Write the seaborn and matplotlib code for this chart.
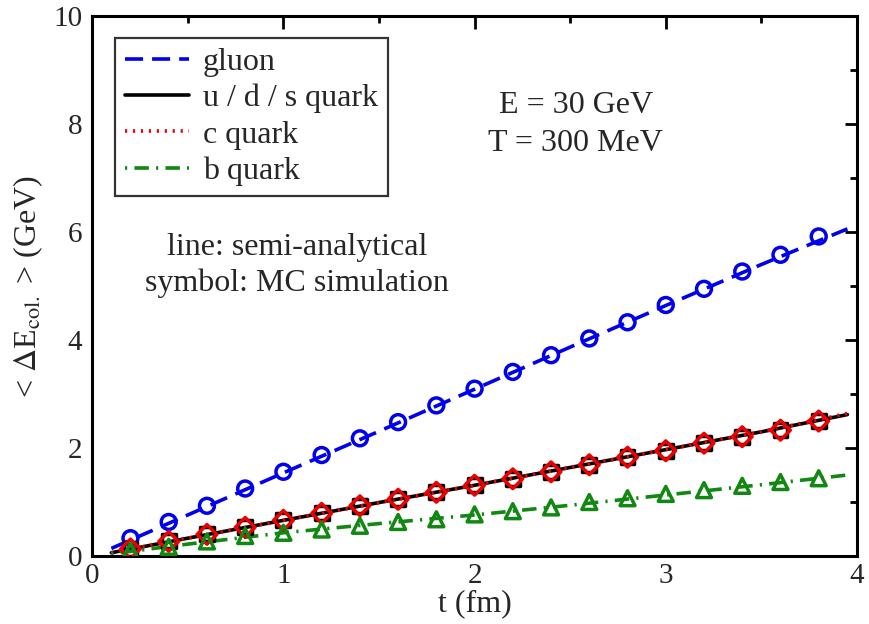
import numpy as np
import pandas as pd
import matplotlib
matplotlib.use("Agg")
import matplotlib.pyplot as plt
import seaborn as sns
from matplotlib.lines import Line2D
from matplotlib.ticker import MultipleLocator

# ---- data ----
t_line = [0.1, 0.5, 1.0, 1.5, 2.0, 2.5, 3.0, 3.5, 3.95]
gluon_line = [0.14, 0.76, 1.54, 2.31, 3.09, 3.87, 4.64, 5.40, 6.06]
uds_line = [0.06, 0.33, 0.66, 0.99, 1.31, 1.64, 1.97, 2.30, 2.62]
c_line = [0.06, 0.33, 0.66, 0.99, 1.31, 1.64, 1.97, 2.30, 2.64]
b_line = [0.04, 0.22, 0.43, 0.60, 0.76, 0.94, 1.13, 1.32, 1.50]

t_mc = [0.2, 0.4, 0.6, 0.8, 1.0, 1.2, 1.4, 1.6, 1.8, 2.0,
        2.2, 2.4, 2.6, 2.8, 3.0, 3.2, 3.4, 3.6, 3.8]
gluon_mc = [0.33, 0.63, 0.93, 1.25, 1.56, 1.87, 2.18, 2.48, 2.79, 3.10,
            3.41, 3.72, 4.03, 4.33, 4.65, 4.95, 5.27, 5.58, 5.92]
uds_mc = [0.13, 0.27, 0.40, 0.53, 0.66, 0.79, 0.93, 1.05, 1.18, 1.31,
          1.43, 1.56, 1.69, 1.83, 1.95, 2.09, 2.21, 2.33, 2.50]
c_mc = [0.13, 0.27, 0.40, 0.53, 0.66, 0.79, 0.93, 1.05, 1.18, 1.31,
        1.43, 1.56, 1.69, 1.83, 1.95, 2.09, 2.21, 2.33, 2.50]
b_mc = [0.10, 0.17, 0.27, 0.37, 0.43, 0.49, 0.56, 0.63, 0.68, 0.77,
        0.83, 0.90, 1.00, 1.07, 1.15, 1.22, 1.30, 1.37, 1.44]

labels = ["gluon", "u / d / s quark", "c quark", "b quark"]
colors = ["#0000ee", "#000000", "#ee0000", "#118811"]

sns.set_theme(style="white")
plt.rcParams["font.family"] = ["Liberation Serif", "DejaVu Serif"]
plt.rcParams["mathtext.fontset"] = "stix"

FS = 23
TFS = 21

fig = plt.figure(figsize=(8.7, 6.24), dpi=100)
ax = fig.add_axes([0.106, 0.109, 0.879, 0.865])

lw = 2.6
dashes = [(5, 2.5), (None, None), (0.6, 1.6), (0.6, 2.0, 4.0, 2.0)]
line_sets = [gluon_line, uds_line, c_line, b_line]
mc_sets = [gluon_mc, uds_mc, c_mc, b_mc]
markers = ["o", "s", "D", "^"]
msizes = [115, 100, 100, 115]

# lines
for i, (ys, col, dsh) in enumerate(zip(line_sets, colors, dashes)):
    df = pd.DataFrame({"t": t_line, "E": ys})
    sns.lineplot(data=df, x="t", y="E", ax=ax, color=col, lw=lw, zorder=2 + i * 0.1)
    ln = ax.lines[-1]
    if dsh[0] is not None:
        ln.set_dashes(dsh)
        ln.set_dash_capstyle("butt")

# markers
for i, (ys, col, mk, ms) in enumerate(zip(mc_sets, colors, markers, msizes)):
    df = pd.DataFrame({"t": t_mc, "E": ys})
    sns.scatterplot(data=df, x="t", y="E", ax=ax, marker=mk, s=ms,
                    facecolor="none", edgecolor=col, linewidth=2.5, zorder=3 + i * 0.1)

ax.set_xlim(0, 4)
ax.set_ylim(0, 10)
ax.xaxis.set_major_locator(MultipleLocator(1))
ax.xaxis.set_minor_locator(MultipleLocator(0.5))
ax.yaxis.set_major_locator(MultipleLocator(2))
ax.yaxis.set_minor_locator(MultipleLocator(1))
ax.tick_params(which="both", direction="in", top=True, right=True, width=2.0,
               color="black", labelsize=TFS)
ax.tick_params(axis="x", pad=5)
ax.tick_params(axis="y", pad=7)
ax.tick_params(which="major", length=9)
ax.tick_params(which="minor", length=5)
for sp in ax.spines.values():
    sp.set_linewidth(2.2)
    sp.set_color("black")

ax.set_xlabel("t (fm)", fontsize=FS, labelpad=0)
ax.set_ylabel(r"< $\Delta$E$_{\rm col.}$ > (GeV)", fontsize=FS, labelpad=6)

ax.text(2.53, 8.35, "E = 30 GeV", fontsize=FS, ha="center", va="center")
ax.text(2.53, 7.64, "T = 300 MeV", fontsize=FS, ha="center", va="center")
ax.text(1.07, 5.72, "line: semi-analytical", fontsize=FS, ha="center", va="center")
ax.text(1.07, 5.05, "symbol: MC simulation", fontsize=FS, ha="center", va="center")

handles = []
for col, dsh in zip(colors, dashes):
    h = Line2D([0], [0], color=col, lw=lw)
    if dsh[0] is not None:
        h.set_dashes(dsh)
        h.set_dash_capstyle("butt")
    handles.append(h)
leg = ax.legend(handles, labels, loc="upper left", bbox_to_anchor=(0.03, 0.96),
                fontsize=FS, frameon=True, fancybox=False, edgecolor="black",
                handlelength=2.0, handletextpad=0.45, labelspacing=0.22,
                borderpad=0.3, borderaxespad=0)
leg.get_frame().set_linewidth(1.6)

fig.savefig("out.png", dpi=100)
